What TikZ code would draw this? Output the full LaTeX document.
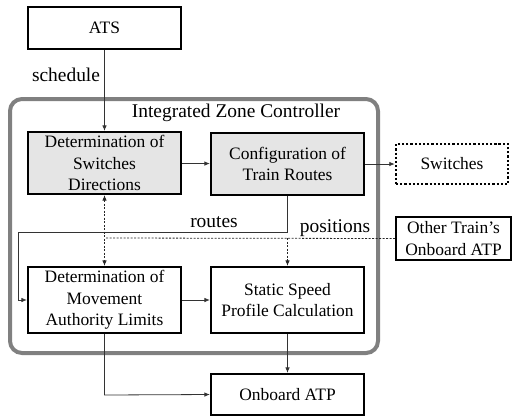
\documentclass[tikz,border=0pt]{standalone}
\usepackage{fontspec}
\setmainfont{Liberation Serif}
\usetikzlibrary{arrows.meta}
\begin{document}
\begin{tikzpicture}[x=1bp,y=-1bp,
  blk/.style={draw=black,line width=2.2bp,minimum width=153bp,align=center,
    inner sep=0pt,font=\fontsize{17.5}{21.5}\selectfont},
  shaded/.style={blk,fill=black!10},
  conn/.style={draw=black!80,line width=0.8bp,-{Latex[length=5.5bp,width=4.5bp]}},
  plain/.style={draw=black!80,line width=0.8bp},
  dashline/.style={draw=black!85,line width=0.8bp,dash pattern=on 2bp off 1.5bp},
  lbl/.style={font=\fontsize{19.5}{22}\selectfont,inner sep=0pt}]
\useasboundingbox (0,0) rectangle (513,416);

% zone controller frame
\draw[black!50,line width=4bp,rounded corners=12bp] (10,99) rectangle (378,353);
\node[lbl] (izc) at (236,113) {Integrated Zone Controller};

% blocks
\node[blk,minimum height=42bp] (ats) at (104.5,28) {ATS};
\node[shaded,minimum height=62bp] (dsd) at (104.5,163) {Determination of\\Switches\\Directions};
\node[shaded,minimum height=62bp] (ctr) at (287.5,164) {Configuration of\\Train Routes};
\node[blk,dotted,line width=2.5bp,minimum width=112bp,minimum height=40bp] (sw) at (452,164) {Switches};
\node[blk,minimum height=66bp] (dmal) at (104.5,300) {Determination of\\Movement\\Authority Limits};
\node[blk,minimum height=66bp] (sspc) at (287.5,300) {Static Speed\\Profile Calculation};
\node[blk,line width=2bp,minimum width=115bp,minimum height=43bp] (oth) at (453.5,238.5) {Other Train's\\Onboard ATP};
\node[blk,minimum height=41bp] (oatp) at (287.5,394.5) {Onboard ATP};

% labels
\node[lbl] (sched) at (66,75) {schedule};
\node[lbl] (rts) at (214,222) {routes};
\node[lbl] (pos) at (335,228) {positions};

% helper points
\coordinate (r1) at (287.5,232);
\coordinate (r2) at (18,232);
\coordinate (r3) at (18,300);
\coordinate (p1) at (104.5,238);
\coordinate (p2) at (287.5,238);
\coordinate (d1) at (104.5,395);

% connectors
\draw[conn] (ats) -- (dsd);
\draw[conn] (dsd) -- (ctr);
\draw[conn] (ctr) -- (sw);
\draw[conn] (ctr.south) -- (r1) -- (r2) -- (r3) -- (dmal.west);
\draw[conn] (dmal) -- (sspc);
\draw[conn] (sspc) -- (oatp);
\draw[conn] (dmal.south) -- (d1) -- (oatp.west);

\draw[dashline] (oth.west) -- (p1);
\draw[dashline,{Latex[length=5.5bp,width=4.5bp]}-{Latex[length=5.5bp,width=4.5bp]}] (dsd.south) -- (dmal.north);
\draw[dashline,-{Latex[length=5.5bp,width=4.5bp]}] (p2) -- (sspc.north);
\end{tikzpicture}
\end{document}
